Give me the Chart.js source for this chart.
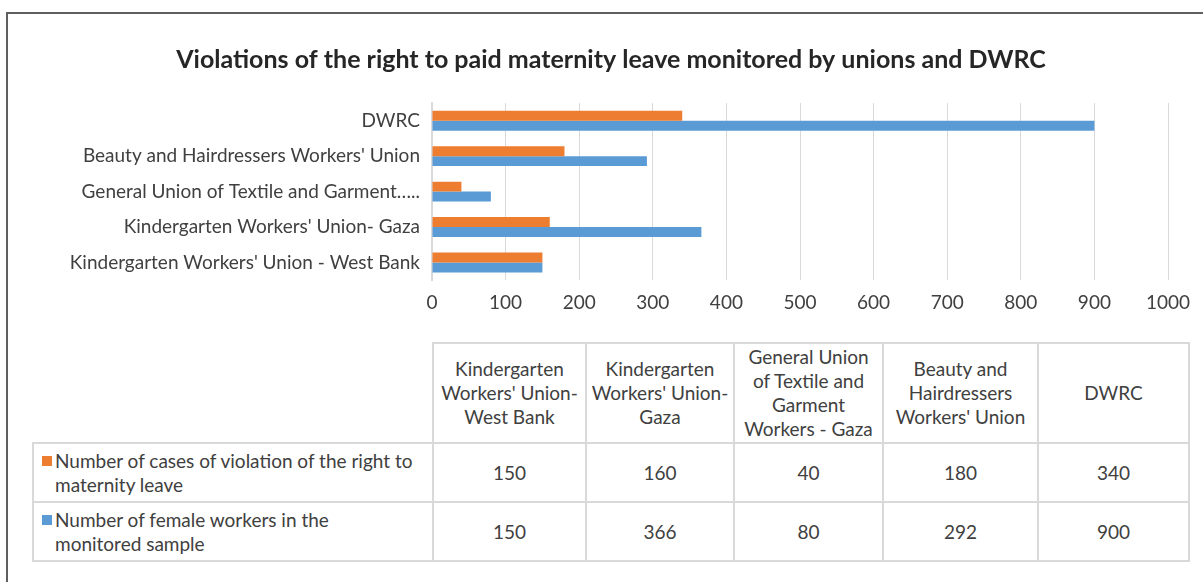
<!DOCTYPE html>
<html lang="en">
<head>
<meta charset="UTF-8">
<meta name="viewport" content="width=device-width, initial-scale=1.0">
<title>Paid maternity leave violations</title>
<script src="https://cdn.jsdelivr.net/npm/chart.js"></script>
<style>
    body {
        margin: 0;
        background: #fff;
        font-family: Lato, sans-serif;
        color: #404040;
    }
    .frame {
        position: absolute;
        left: 6px;
        top: 12px;
        width: 1200px;
        height: 575px;
        border-top: 2px solid #5f5f5f;
        border-left: 2px solid #5f5f5f;
    }
    .chart-box {
        position: absolute;
        left: 0;
        top: 0;
        width: 1203px;
        height: 333px;
    }
    #dataTable {
        position: absolute;
        left: 32px;
        top: 342px;
        border-collapse: collapse;
        table-layout: fixed;
        font-size: 19px;
    }
    #dataTable td, #dataTable th {
        border: 2px solid #d9d9d9;
        text-align: center;
        font-weight: normal;
        line-height: 24px;
        padding: 0 5px;
    }
    #dataTable th:nth-child(3) { padding: 0 1px; }
    #dataTable thead tr { height: 100px; }
    #dataTable tbody tr { height: 59px; }
    #dataTable th.blank {
        border-top: none;
        border-left: none;
    }
    #dataTable td.name {
        text-align: left;
        padding-left: 8px;
    }
    .name-wrap {
        display: flex;
        align-items: flex-start;
    }
    .swatch {
        width: 10px;
        height: 10px;
        margin: 7px 3px 0 0;
        flex: none;
    }
    .name-text { white-space: pre-line; }
</style>
</head>
<body>
<div class="frame"></div>
<div class="chart-box">
    <canvas id="myChart"></canvas>
</div>
<table id="dataTable">
    <colgroup>
        <col style="width:400px"><col style="width:153px"><col style="width:148px">
        <col style="width:149px"><col style="width:155px"><col style="width:151px">
    </colgroup>
    <thead><tr><th class="blank"></th></tr></thead>
    <tbody></tbody>
</table>
<script>
    // table order (bottom to top on the chart)
    const categories = ["Kindergarten Workers' Union- West Bank", "Kindergarten Workers' Union- Gaza", "General Union of Textile and Garment Workers - Gaza", "Beauty and Hairdressers Workers' Union", "DWRC"];
    const axisLabels = ["Kindergarten Workers' Union - West Bank", "Kindergarten Workers' Union- Gaza", "General Union of Textile and Garment…..", "Beauty and Hairdressers Workers' Union", "DWRC"];
    const seriesNames = ["Number of cases of violation of the right to\nmaternity leave", "Number of female workers in the\nmonitored sample"];
    const seriesColors = ['#ED7D31', '#5B9BD5'];
    const casesValues = [150, 160, 40, 180, 340];
    const workerValues = [150, 366, 80, 292, 900];
    const allSeries = [casesValues, workerValues];

    const fontName = 'Lato';

    // data table under the chart
    const headRow = document.querySelector('#dataTable thead tr');
    categories.forEach(c => {
        const th = document.createElement('th');
        th.textContent = c;
        headRow.appendChild(th);
    });
    const body = document.querySelector('#dataTable tbody');
    allSeries.forEach((values, i) => {
        const tr = document.createElement('tr');
        const nameCell = document.createElement('td');
        nameCell.className = 'name';
        nameCell.innerHTML = '<div class="name-wrap"><span class="swatch"></span><span class="name-text"></span></div>';
        nameCell.querySelector('.swatch').style.background = seriesColors[i];
        nameCell.querySelector('.name-text').textContent = seriesNames[i];
        tr.appendChild(nameCell);
        values.forEach(v => {
            const td = document.createElement('td');
            td.textContent = v;
            tr.appendChild(td);
        });
        body.appendChild(tr);
    });

    // chart shows the first category at the bottom, so reverse for Chart.js
    const rev = arr => arr.slice().reverse();

    const ctx = document.getElementById('myChart').getContext('2d');
    const chart = new Chart(ctx, {
        type: 'bar',
        data: {
            labels: rev(axisLabels),
            datasets: [
                {
                    label: seriesNames[0],
                    data: rev(casesValues),
                    backgroundColor: seriesColors[0],
                    categoryPercentage: 0.56,
                    barPercentage: 1.0
                },
                {
                    label: seriesNames[1],
                    data: rev(workerValues),
                    backgroundColor: seriesColors[1],
                    categoryPercentage: 0.56,
                    barPercentage: 1.0
                }
            ]
        },
        options: {
            indexAxis: 'y',
            responsive: true,
            maintainAspectRatio: false,
            animation: false,
            layout: {
                padding: { left: 54, right: 35, top: 13, bottom: 8 }
            },
            plugins: {
                legend: { display: false },
                tooltip: { enabled: false },
                title: {
                    display: true,
                    text: 'Violations of the right to paid maternity leave monitored by unions and DWRC',
                    color: '#262626',
                    font: { family: fontName, size: 25, weight: 'bold' },
                    padding: { top: 32, bottom: 28 }
                }
            },
            scales: {
                x: {
                    min: 0,
                    max: 1000,
                    ticks: {
                        stepSize: 100,
                        color: '#404040',
                        font: { family: fontName, size: 19 },
                        padding: 11,
                        callback: v => String(v)
                    },
                    grid: { color: '#d9d9d9', drawTicks: false },
                    border: { display: false }
                },
                y: {
                    ticks: {
                        color: '#404040',
                        font: { family: fontName, size: 19 },
                        padding: 12
                    },
                    grid: { display: false, drawTicks: false },
                    border: { color: '#d9d9d9', width: 2 },
                    afterFit(scale) {
                        scale.width = 378;
                    }
                }
            }
        }
    });
</script>
</body>
</html>
